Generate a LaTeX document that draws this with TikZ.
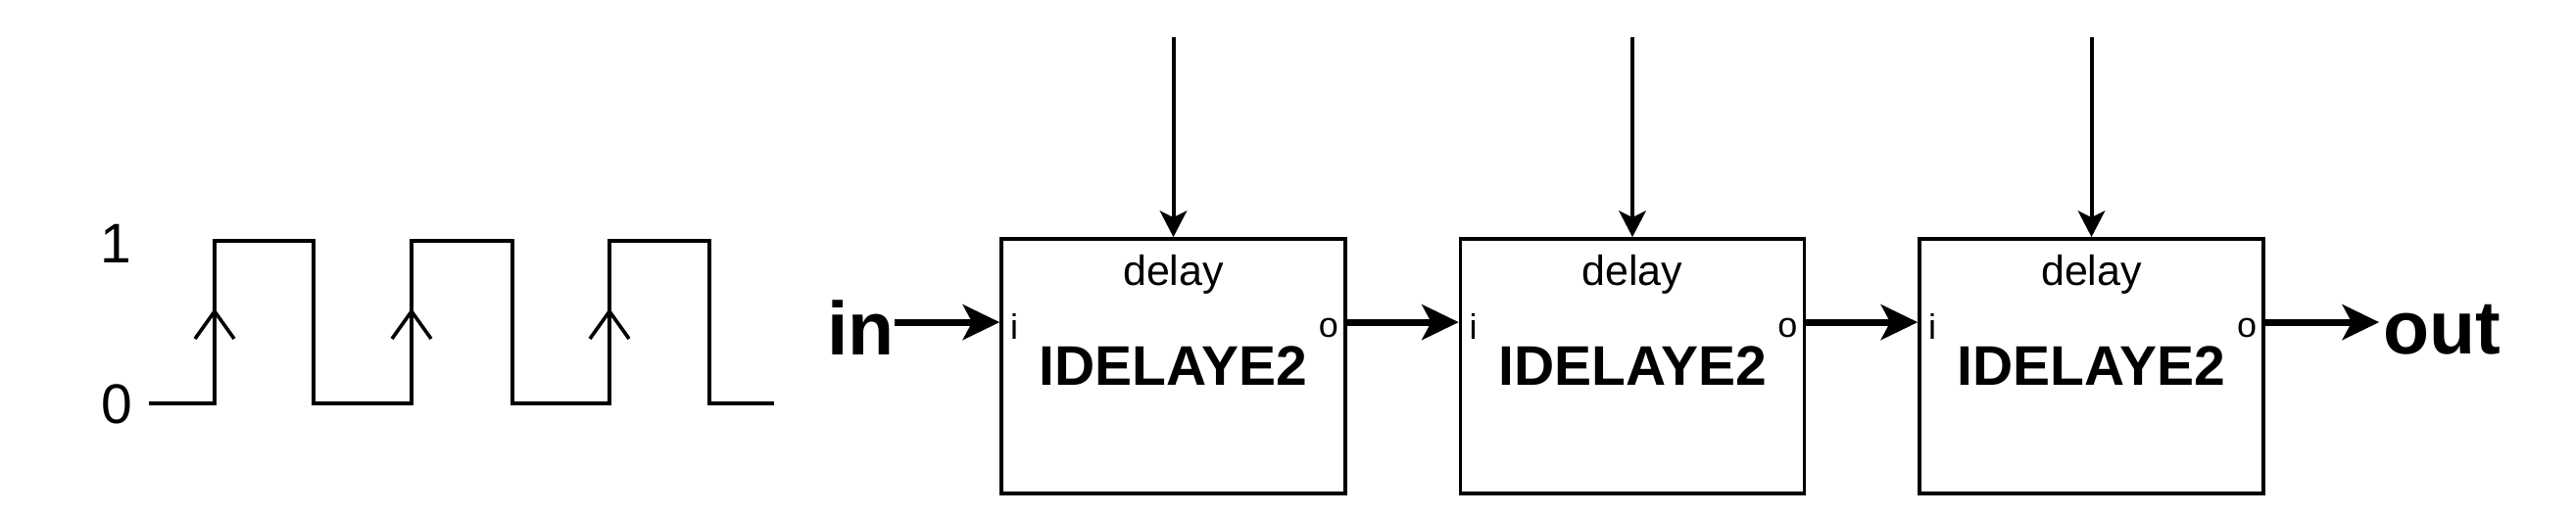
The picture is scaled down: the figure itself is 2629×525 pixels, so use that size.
\documentclass[tikz,border=0pt]{standalone}
\usepackage{fontspec}
\setmainfont{Liberation Sans}
\usetikzlibrary{arrows.meta}

\begin{document}
\begin{tikzpicture}[x=0.5pt, y=-0.5pt,
  blk/.style={draw, line width=1.9pt, minimum width=175.5pt, minimum height=130pt, inner sep=0pt, font=\fontsize{28.5}{30}\selectfont\bfseries},
  lbl/.style={inner sep=0pt, font=\fontsize{21.5}{24}\selectfont},
  port/.style={inner sep=0pt, font=\fontsize{18}{20}\selectfont},
  io/.style={inner sep=0pt, font=\fontsize{38.5}{40}\selectfont\bfseries},
  lvl/.style={inner sep=0pt, font=\fontsize{28.5}{30}\selectfont},
  bus/.style={line width=3.5pt, -{Stealth[length=19pt, width=18.5pt, inset=5pt, line width=0pt]}},
  ctl/.style={line width=2pt, -{Stealth[length=13.5pt, width=14pt, inset=3.5pt, line width=0pt]}},
  wave/.style={line width=1.8pt}]
\useasboundingbox (0,0) rectangle (2629,525);
%Signal
\node[lvl, anchor=base] (one) at (118,268) {1};
\node[lvl, anchor=base] (zero) at (119,432) {0};
\draw[wave] (152,412) -- (219,412) -- (219,246) -- (320,246) -- (320,412) -- (420,412) -- (420,246) -- (523,246) -- (523,412) -- (622,412) -- (622,246) -- (724,246) -- (724,412) -- (790,412);
\draw[wave] (199,346) -- (219,318) -- (239,346);
\draw[wave] (400,346) -- (420,318) -- (440,346);
\draw[wave] (602,346) -- (622,318) -- (642,346);
%Blocks
\node[blk] (d1) at (1197.5,374) {IDELAYE2};
\node[blk] (d2) at (1666,374) {IDELAYE2};
\node[blk] (d3) at (2134.5,374) {IDELAYE2};
\coordinate (d1-i) at ([yshift=-43.5pt]d1.north west);
\coordinate (d1-o) at ([yshift=-43.5pt]d1.north east);
\coordinate (d2-i) at ([yshift=-43.5pt]d2.north west);
\coordinate (d2-o) at ([yshift=-43.5pt]d2.north east);
\coordinate (d3-i) at ([yshift=-43.5pt]d3.north west);
\coordinate (d3-o) at ([yshift=-43.5pt]d3.north east);
\coordinate (t1) at ([yshift=102pt]d1.north);
\coordinate (t2) at ([yshift=102pt]d2.north);
\coordinate (t3) at ([yshift=102pt]d3.north);
%Text
\node[lbl, anchor=base] (l1) at ([yshift=-24.5pt]d1.north) {delay};
\node[lbl, anchor=base] (l2) at ([yshift=-24.5pt]d2.north) {delay};
\node[lbl, anchor=base] (l3) at ([yshift=-24.5pt]d3.north) {delay};
\node[port, anchor=base west] (i1) at ([xshift=5.3pt, yshift=-8.75pt]d1-i) {i};
\node[port, anchor=base west] (i2) at ([xshift=5.3pt, yshift=-8.75pt]d2-i) {i};
\node[port, anchor=base west] (i3) at ([xshift=5.3pt, yshift=-8.75pt]d3-i) {i};
\node[port, anchor=base east] (o1) at ([xshift=-4.25pt, yshift=-7.75pt]d1-o) {o};
\node[port, anchor=base east] (o2) at ([xshift=-4.25pt, yshift=-7.75pt]d2-o) {o};
\node[port, anchor=base east] (o3) at ([xshift=-4.25pt, yshift=-7.75pt]d3-o) {o};
\node[io, anchor=base east] (in) at (913,362) {in};
\node[io, anchor=base west] (out) at (2432,361) {out};
%Arrows
\draw[ctl] (t1) -- (d1.north);
\draw[ctl] (t2) -- (d2.north);
\draw[ctl] (t3) -- (d3.north);
\draw[bus] (in.east |- d1-i) -- (d1-i);
\draw[bus] (d1-o) -- (d2-i);
\draw[bus] (d2-o) -- (d3-i);
\draw[bus, shorten >=2pt] (d3-o) -- (out.west |- d3-o);
\end{tikzpicture}
\end{document}
